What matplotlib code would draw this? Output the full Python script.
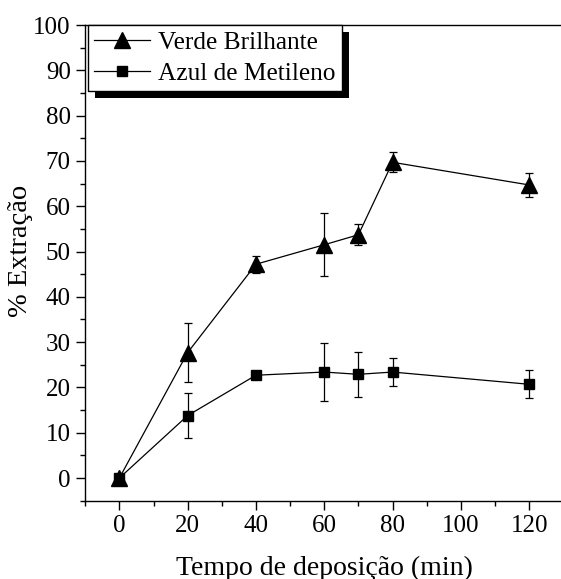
import matplotlib
matplotlib.use('Agg')
import matplotlib.pyplot as plt
from matplotlib.patches import Rectangle

plt.rcParams['font.family'] = ['Liberation Serif', 'DejaVu Serif']
plt.rcParams['font.size'] = 18

# Data
tempo = [0, 20, 40, 60, 70, 80, 120]
verde = [0.0, 27.7, 47.2, 51.5, 53.7, 69.7, 64.7]
verde_err = [0.5, 6.5, 1.9, 7.0, 2.3, 2.2, 2.7]
azul = [0.0, 13.8, 22.7, 23.4, 22.9, 23.4, 20.7]
azul_err = [0.5, 4.9, 0.4, 6.4, 5.0, 3.0, 3.1]

fig = plt.figure(figsize=(5.61, 5.79), dpi=100)
ax = fig.add_axes([0.1519, 0.1352, 0.8522, 0.8216])

# error bars first, then lines+markers (those carry the legend labels)
ax.errorbar(tempo, verde, yerr=verde_err, fmt='none', ecolor='black',
            elinewidth=0.9, capsize=3, capthick=0.9, zorder=2)
ax.errorbar(tempo, azul, yerr=azul_err, fmt='none', ecolor='black',
            elinewidth=0.9, capsize=3, capthick=0.9, zorder=2)
ax.plot(tempo, verde, color='black', marker='^', markersize=11,
        linewidth=0.9, label='Verde Brilhante', zorder=3)
ax.plot(tempo, azul, color='black', marker='s', markersize=7.5,
        linewidth=0.9, label='Azul de Metileno', zorder=3)

ax.set_xlim(-10, 130)
ax.set_ylim(-5, 100)
ax.set_xticks(range(0, 121, 20))
ax.set_xticks(range(-10, 131, 10), minor=True)
ax.set_yticks(range(0, 101, 10))
ax.set_yticks(range(-5, 101, 5), minor=True)

ax.spines['right'].set_visible(False)
for s in ['left', 'bottom', 'top']:
    ax.spines[s].set_linewidth(1.0)
ax.tick_params(which='major', direction='out', length=6.5, width=1.0, pad=4)
ax.tick_params(which='minor', direction='out', length=3.5, width=1.0)
ax.tick_params(top=False, right=False, which='both')

ax.set_xlabel('Tempo de deposição (min)', fontsize=20, labelpad=13)
ax.set_ylabel('% Extração', fontsize=20.5)
ax.yaxis.set_label_coords(-0.11, 0.525)

leg = ax.legend(loc='upper left', bbox_to_anchor=(0.006, 1.0), borderaxespad=0,
                fancybox=False, frameon=True, framealpha=1, fontsize=18.3,
                handlelength=2.2, handletextpad=0.3, borderpad=0.25,
                labelspacing=0.3, edgecolor='black')
leg.get_frame().set_linewidth(1.0)
leg.set_zorder(5)

# black drop shadow behind the legend box
fig.canvas.draw()
bb = leg.get_window_extent().transformed(fig.transFigure.inverted())
dx = 7 / 561
dy = 7 / 579
shadow = Rectangle((bb.x0 + dx, bb.y0 - dy), bb.width, bb.height,
                   transform=fig.transFigure, facecolor='black', edgecolor='none',
                   zorder=4)
ax.add_artist(shadow)
shadow.set_clip_on(False)

fig.savefig('out.png', dpi=100)
